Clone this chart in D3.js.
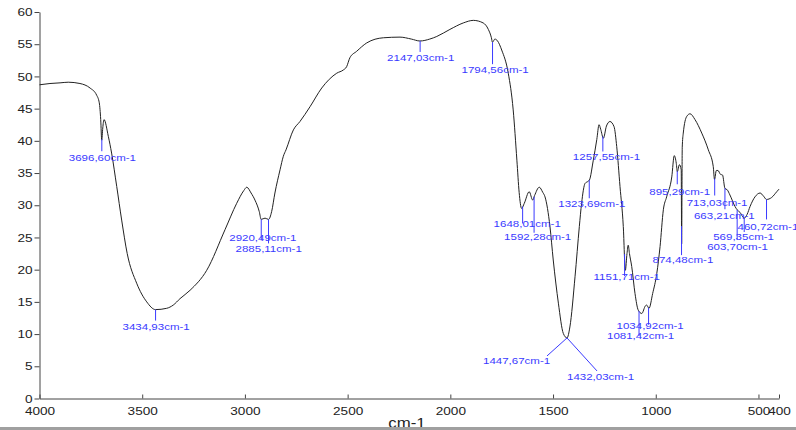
<!DOCTYPE html>
<html>
<head>
<meta charset="utf-8">
<script src="https://cdn.jsdelivr.net/npm/d3@7"></script>
<style>
  body { margin: 0; background: #fff; }
  svg { display: block; font-family: "Liberation Sans", Arial, sans-serif; }
</style>
</head>
<body>
<svg id="spectrum" width="796" height="430"></svg>
<script>
// spectrum: wavenumber (cm-1) and transmittance
var wavenumbers = [4000, 3949, 3900, 3860, 3803, 3754, 3722, 3709, 3702, 3697, 3692, 3686, 3665, 3649, 3624, 3600,
  3573, 3527, 3478, 3435, 3381, 3349, 3316, 3267, 3186, 3097, 3040, 3005, 2991, 2970, 2951, 2930, 2921, 2902, 2885,
  2870, 2854, 2829, 2813, 2800, 2764, 2732, 2683, 2626, 2553, 2521, 2505, 2489, 2456, 2407, 2326, 2245, 2190, 2148,
  2100, 2066, 2002, 1937, 1888, 1840, 1815, 1800, 1795, 1783, 1770, 1750, 1718, 1694, 1676, 1665, 1653, 1640, 1616,
  1599, 1590, 1567, 1550, 1539, 1515, 1499, 1474, 1450, 1432, 1418, 1393, 1372, 1361, 1344, 1330, 1323, 1304, 1287,
  1276, 1268, 1255, 1240, 1223, 1203, 1190, 1174, 1158, 1148, 1140, 1134, 1128, 1117, 1101, 1085, 1068, 1050, 1044,
  1033, 1015, 995, 979, 963, 947, 922, 910, 900, 895, 885, 876, 874, 871, 866, 849, 833, 809, 776, 744, 720, 714,
  705, 697, 685, 675, 663, 652, 639, 614, 604, 590, 569, 555, 541, 517, 492, 475, 461, 436, 411, 400];
var transmittance = [48.7, 48.9, 49.0, 49.1, 48.9, 48.2, 47.1, 45.9, 43.3, 40.1, 42.0, 43.3, 40.7, 38.1, 32.9, 27.7,
  22.5, 17.9, 15.0, 13.8, 14.0, 14.5, 15.5, 16.8, 19.9, 26.2, 30.3, 32.3, 32.8, 31.9, 30.8, 29.0, 27.8, 28.0, 27.8,
  29.0, 31.9, 35.5, 37.6, 38.6, 41.7, 43.0, 45.3, 48.2, 50.5, 51.0, 51.5, 52.9, 53.9, 55.2, 56.0, 56.1, 55.8, 55.5,
  55.8, 56.2, 57.3, 58.3, 58.7, 58.3, 57.3, 56.0, 55.3, 55.8, 55.5, 54.1, 50.5, 44.8, 37.0, 32.0, 29.5, 30.3, 32.1,
  30.8, 31.5, 32.8, 32.0, 31.3, 26.7, 21.5, 14.8, 10.1, 9.4, 11.1, 18.9, 26.7, 30.3, 33.4, 33.7, 33.9, 37.0, 40.2,
  42.5, 41.8, 40.4, 42.3, 43.0, 42.2, 39.1, 32.9, 26.7, 19.9, 22.5, 23.8, 22.5, 20.5, 16.3, 13.7, 13.2, 14.4, 14.5,
  14.0, 16.3, 19.4, 23.6, 29.3, 31.3, 34.4, 37.7, 36.5, 35.2, 36.3, 35.5, 24.0, 39.0, 41.2, 43.8, 44.2, 43.3, 41.2,
  38.6, 36.0, 34.0, 35.4, 35.4, 34.8, 34.7, 32.6, 32.4, 31.6, 29.8, 29.3, 28.9, 28.0, 28.6, 29.8, 31.3, 31.9, 31.4,
  30.9, 31.2, 32.1, 32.5];

var xTicks = [4000, 3500, 3000, 2500, 2000, 1500, 1000, 500, 400];
var yTicks = [0, 5, 10, 15, 20, 25, 30, 35, 40, 45, 50, 55, 60];

// labelled peaks
var peakWn = [3696.60, 3434.93, 2920.49, 2885.11, 2147.03, 1794.56, 1648.01, 1592.28, 1323.69, 1257.55,
  1151.71, 1081.42, 1034.92, 1447.67, 1432.03, 895.29, 874.48, 713.03, 663.21, 603.70, 569.35, 460.72];
var peakText = ["3696,60cm-1", "3434,93cm-1", "2920,49cm-1", "2885,11cm-1", "2147,03cm-1", "1794,56cm-1",
  "1648,01cm-1", "1592,28cm-1", "1323,69cm-1", "1257,55cm-1", "1151,71cm-1", "1081,42cm-1", "1034,92cm-1",
  "1447,67cm-1", "1432,03cm-1", "895,29cm-1", "874,48cm-1", "713,03cm-1", "663,21cm-1", "603,70cm-1",
  "569,35cm-1", "460,72cm-1"];
// layout of each label relative to its peak: [line end dx, line end dy, text left dx, text middle dy]
var peakLayout = [[0, 12, -33, 18], [0, 11, -33, 17], [0, 21, -32, 18], [0, 24, -33, 29], [0, 11, -33, 17],
  [0, 22, -31, 27], [0, 17, -29, 17], [0, 36, -30, 40], [0, 18, -31, 23], [0, 15, -30, 20], [0, 22, -31, 23],
  [0, 25, -32, 25], [0, 17, -32, 18], [-20, 18, -84, 23], [30, 33, 0, 39], [0, 13, -28, 20], [0, 29, -29, 34],
  [0, 17, -28, 24], [0, 21, -31, 27], [0, 30, -30, 37], [0, 14, -31, 19], [0, 20, -29, 27]];

var svg = d3.select("#spectrum");

var x = d3.scaleLinear().domain([4000, 400]).range([39.5, 779]);
var y = d3.scaleLinear().domain([0, 60]).range([398.5, 12]);

var stretch = function (sel, k) {
  sel.each(function () {
    var len = this.getComputedTextLength();
    d3.select(this).attr("textLength", len * k).attr("lengthAdjust", "spacingAndGlyphs");
  });
};

// axes
var xAxis = svg.append("g")
  .attr("transform", "translate(0," + y(0) + ")")
  .call(d3.axisBottom(x).tickValues(xTicks).tickFormat(d3.format("d")).tickSizeInner(-4).tickSizeOuter(0).tickPadding(8));
var yAxis = svg.append("g")
  .attr("transform", "translate(" + x(4000) + ",0)")
  .call(d3.axisLeft(y).tickValues(yTicks).tickSizeInner(5).tickSizeOuter(0).tickPadding(2));

svg.selectAll(".domain, .tick line").attr("stroke", "#444");
svg.selectAll(".tick text").attr("fill", "#222").style("font-size", "11.5px")
  .style("font-family", "'Liberation Sans', Arial, sans-serif");
stretch(svg.selectAll(".tick text"), 1.18);

svg.append("text")
  .attr("x", 407).attr("y", 428)
  .attr("text-anchor", "middle")
  .attr("fill", "#222")
  .style("font-size", "15px")
  .text("cm-1")
  .call(stretch, 1.12);

// the bottom grey strip
svg.append("rect").attr("x", 0).attr("y", 427).attr("width", 796).attr("height", 3).attr("fill", "#a0a0a0");

// spectrum
var points = wavenumbers.map(function (w, i) { return [w, transmittance[i]]; });
var line = d3.line()
  .x(function (d) { return x(d[0]); })
  .y(function (d) { return y(d[1]); })
  .curve(d3.curveMonotoneX);
svg.append("path")
  .datum(points)
  .attr("fill", "none")
  .attr("stroke", "#222")
  .attr("stroke-width", 1)
  .attr("d", line);

// value on the curve at any wavenumber
var valueAt = function (w) {
  for (var i = 0; i < wavenumbers.length - 1; i++) {
    var a = wavenumbers[i], b = wavenumbers[i + 1];
    if (w <= a && w >= b) {
      var t = (a - w) / (a - b);
      return transmittance[i] + t * (transmittance[i + 1] - transmittance[i]);
    }
  }
  return transmittance[transmittance.length - 1];
};

var labels = svg.append("g").attr("id", "peaks");
peakWn.forEach(function (w, i) {
  var px = x(w), py = y(valueAt(w));
  if (i === 13 || i === 14) { px = x(1432); py = y(9.4); }
  var lay = peakLayout[i];
  labels.append("line")
    .attr("x1", px).attr("y1", py)
    .attr("x2", px + lay[0]).attr("y2", py + lay[1])
    .attr("stroke", "#3a3aff").attr("stroke-width", 1);
  labels.append("text")
    .attr("x", px + lay[2]).attr("y", py + lay[3])
    .attr("dy", "0.35em")
    .attr("fill", "#3a3aff")
    .style("font-size", "9.6px")
    .text(peakText[i])
    .call(stretch, 1.2);
});
</script>
</body>
</html>
